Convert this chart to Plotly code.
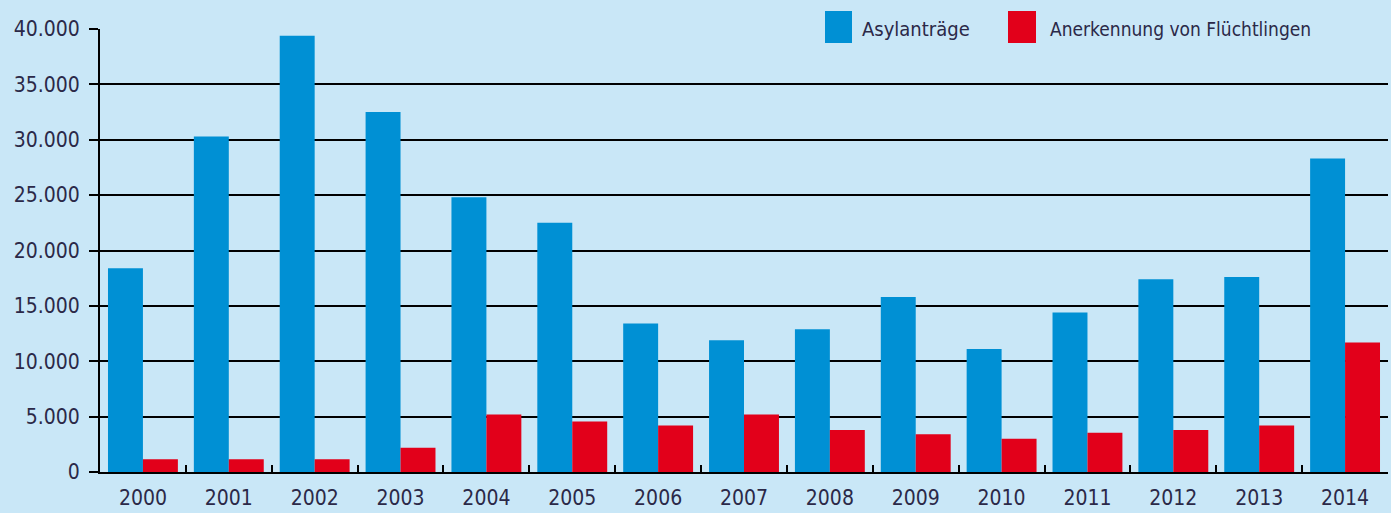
import plotly.graph_objects as go

years = ["2000", "2001", "2002", "2003", "2004", "2005", "2006", "2007",
         "2008", "2009", "2010", "2011", "2012", "2013", "2014"]
asylantraege = [18400, 30300, 39400, 32500, 24800, 22500, 13400, 11900,
                12900, 15800, 11100, 14400, 17400, 17600, 28300]
anerkennung = [1150, 1150, 1150, 2200, 5200, 4550, 4200, 5200,
               3800, 3400, 3000, 3550, 3800, 4200, 11700]
series_names = ["Asylanträge", "Anerkennung von Flüchtlingen"]
y_ticks = [0, 5000, 10000, 15000, 20000, 25000, 30000, 35000, 40000]
y_tick_labels = ["0", "5.000", "10.000", "15.000", "20.000", "25.000",
                 "30.000", "35.000", "40.000"]

BG = "#c9e7f7"
BLUE = "#0090d4"
RED = "#e2001a"
TXT = "#2b2948"
FONT = "DejaVu Sans Condensed, Liberation Sans Narrow, sans-serif"

W, H = 1391, 513
ML, MR, MT, MB = 100, 3, 29, 41


def px_x(px):
    return (px - ML) / (W - ML - MR)


def px_y(py):
    return (H - MB - py) / (H - MT - MB)


fig = go.Figure()
fig.add_trace(go.Bar(x=years, y=asylantraege, name=series_names[0],
                     marker=dict(color=BLUE, line=dict(width=0))))
fig.add_trace(go.Bar(x=years, y=anerkennung, name=series_names[1],
                     marker=dict(color=RED, line=dict(width=0))))

shapes = [
    # legend background covering the top gridline
    dict(type="rect", xref="paper", yref="paper", layer="above",
         x0=px_x(809), x1=px_x(1338), y0=px_y(50), y1=px_y(6),
         fillcolor=BG, line=dict(width=0)),
    dict(type="rect", xref="paper", yref="paper", layer="above",
         x0=px_x(825), x1=px_x(852), y0=px_y(43), y1=px_y(11),
         fillcolor=BLUE, line=dict(width=0)),
    dict(type="rect", xref="paper", yref="paper", layer="above",
         x0=px_x(1008), x1=px_x(1036), y0=px_y(43), y1=px_y(11),
         fillcolor=RED, line=dict(width=0)),
]
annotations = [
    dict(text=series_names[0], xref="paper", yref="paper",
         x=px_x(860), y=px_y(29), xanchor="left", yanchor="middle",
         showarrow=False, font=dict(family=FONT, size=20, color=TXT)),
    dict(text=series_names[1], xref="paper", yref="paper",
         x=px_x(1048), y=px_y(29), xanchor="left", yanchor="middle",
         showarrow=False, font=dict(family=FONT, size=19, color=TXT)),
]

fig.update_layout(
    width=W, height=H,
    margin=dict(l=ML, r=MR, t=MT, b=MB, pad=0),
    paper_bgcolor=BG, plot_bgcolor=BG,
    barmode="group", bargap=0.186, bargroupgap=0,
    showlegend=False,
    shapes=shapes, annotations=annotations,
    font=dict(family=FONT, size=21, color=TXT),
)
fig.update_xaxes(
    type="category", showgrid=False,
    showline=True, linecolor="black", linewidth=2,
    ticks="inside", tickson="boundaries", ticklen=7, tickwidth=2,
    tickcolor="black", ticklabelstandoff=6,
    tickfont=dict(family=FONT, size=21, color=TXT),
)
fig.update_yaxes(
    range=[0, 40000], tickvals=y_ticks, ticktext=y_tick_labels,
    showgrid=True, gridcolor="black", gridwidth=2,
    showline=True, linecolor="black", linewidth=2,
    ticks="outside", ticklen=9, tickwidth=2, tickcolor="black",
    zeroline=False, ticklabelstandoff=5,
    tickfont=dict(family=FONT, size=21, color=TXT),
)

fig.write_html(
    "out.html",
    config={"displayModeBar": False},
    post_script=("document.body.style.margin='0';"
                 "document.body.style.background='" + BG + "';"),
)
